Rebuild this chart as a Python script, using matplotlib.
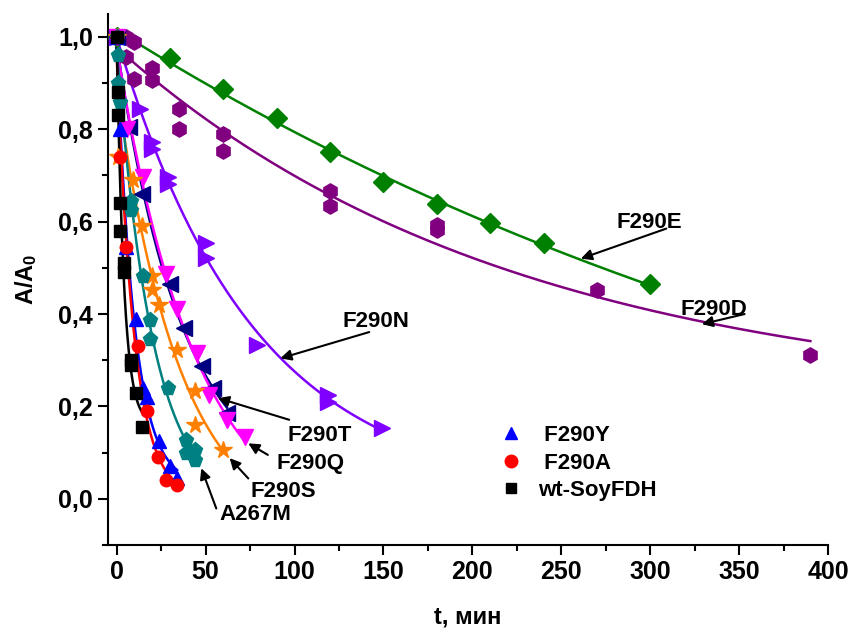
import numpy as np
import matplotlib
matplotlib.use("Agg")
import matplotlib.pyplot as plt
from matplotlib.ticker import MultipleLocator, FuncFormatter
from matplotlib.lines import Line2D

plt.rcParams['font.family'] = ['Liberation Sans', 'DejaVu Sans']
plt.rcParams['font.weight'] = 'bold'
plt.rcParams['mathtext.fontset'] = 'custom'
plt.rcParams['mathtext.rm'] = 'Liberation Sans:bold'
plt.rcParams['mathtext.default'] = 'rm'

# inactivation data: time (min) and residual activity A/A0
t_E = [0, 30, 60, 90, 120, 150, 180, 210, 240, 300]
y_E = [1.0, 0.955, 0.888, 0.825, 0.75, 0.685, 0.638, 0.597, 0.553, 0.465]

t_D = [0, 5, 5, 10, 10, 20, 20, 35, 35, 60, 60, 120, 120, 180, 180, 270, 390]
y_D = [1.0, 1.0, 0.957, 0.99, 0.908, 0.932, 0.907, 0.843, 0.80, 0.79, 0.753,
       0.666, 0.635, 0.593, 0.583, 0.453, 0.311]

t_N = [0, 13, 20, 20, 29, 29, 50, 50, 79, 119, 119, 149]
y_N = [1.0, 0.845, 0.772, 0.758, 0.696, 0.682, 0.553, 0.521, 0.334, 0.225, 0.21, 0.153]

t_T = [0, 7, 14, 30, 38, 48, 54, 62]
y_T = [1.0, 0.805, 0.66, 0.464, 0.37, 0.287, 0.24, 0.185]

t_Q = [0, 6, 15, 28, 34, 45, 52, 62, 72]
y_Q = [1.0, 0.80, 0.696, 0.486, 0.41, 0.316, 0.225, 0.171, 0.133]

t_S = [0, 1, 9, 14, 20, 20, 24, 34, 44, 44, 60]
y_S = [1.0, 0.74, 0.69, 0.59, 0.483, 0.453, 0.42, 0.323, 0.233, 0.16, 0.106]

t_M = [0, 1, 1, 2, 8, 8, 15, 19, 19, 29, 39, 39, 44, 44]
y_M = [1.0, 0.96, 0.90, 0.86, 0.645, 0.625, 0.483, 0.388, 0.345, 0.24, 0.128,
       0.10, 0.106, 0.085]

t_Y = [0, 2, 5, 11, 15, 17, 24, 30, 34]
y_Y = [1.0, 0.80, 0.545, 0.39, 0.24, 0.22, 0.125, 0.07, 0.045]

t_A = [0, 2, 5, 12, 17, 23, 28, 34]
y_A = [1.0, 0.74, 0.545, 0.33, 0.19, 0.09, 0.04, 0.03]

t_wt = [0, 1, 1, 2, 2, 4, 4, 8, 8, 11, 14]
y_wt = [1.0, 0.88, 0.83, 0.64, 0.58, 0.51, 0.49, 0.30, 0.29, 0.23, 0.155]


def fit_curve(t, y):
    # single exponential with offset, tau found by grid search
    t = np.asarray(t, float)
    y = np.asarray(y, float)
    best = None
    for tau in np.geomspace(1, 3000, 800):
        M = np.column_stack([np.exp(-t / tau), np.ones_like(t)])
        coef, *_ = np.linalg.lstsq(M, y, rcond=None)
        err = np.sum((M @ coef - y) ** 2)
        if best is None or err < best[0]:
            best = (err, tau, coef)
    _, tau, (a, c) = best
    tt = np.linspace(0, t.max(), 300)
    return tt, a * np.exp(-tt / tau) + c


series = [
    (t_E, y_E, 'D', '#008000', 10),
    (t_D, y_D, 'h', '#800080', 11),
    (t_N, y_N, '>', '#8000ff', 11),
    (t_T, y_T, '<', '#000080', 11),
    (t_Q, y_Q, 'v', '#ff00ff', 11),
    (t_S, y_S, '*', '#ff8000', 13),
    (t_M, y_M, 'p', '#008080', 11),
    (t_Y, y_Y, '^', '#0000ff', 10),
    (t_A, y_A, 'o', '#ff0000', 9),
    (t_wt, y_wt, 's', '#000000', 8),
]

fig = plt.figure(figsize=(8.52, 6.3), dpi=100)
ax = fig.add_axes([0.1265, 0.135, 0.8455, 0.843])

for t, y, m, c, ms in series:
    ax.plot(t, y, m, color=c, ms=ms, mec=c, ls='none', zorder=3)
    tt, yy = fit_curve(t, y)
    ax.plot(tt, yy, color=c, lw=1.8, zorder=2)

ax.set_xlim(-5, 400)
ax.set_ylim(-0.1, 1.05)
ax.xaxis.set_major_locator(MultipleLocator(50))
ax.xaxis.set_minor_locator(MultipleLocator(25))
ax.yaxis.set_major_locator(MultipleLocator(0.2))
ax.yaxis.set_minor_locator(MultipleLocator(0.1))
ax.yaxis.set_major_formatter(FuncFormatter(lambda v, p: f"{v:.1f}".replace('.', ',')))
ax.tick_params(which='both', direction='out', width=1.5, labelsize=18)
ax.tick_params(which='major', length=7)
ax.tick_params(which='minor', length=4)
for s in ['top', 'right']:
    ax.spines[s].set_visible(False)
for s in ['left', 'bottom']:
    ax.spines[s].set_linewidth(1.5)

ax.set_xlabel('t, мин', fontsize=17, fontweight='bold', labelpad=16)
ax.set_ylabel('A/A$_0$', fontsize=17, fontweight='bold', labelpad=14)

# labels with arrows: (text, text position, arrow tail, arrow head)
notes = [
    ('F290E', (281, 0.598), (309, 0.585), (261, 0.52)),
    ('F290D', (317, 0.409), (353, 0.40), (329, 0.378)),
    ('F290N', (127, 0.383), (142, 0.361), (92, 0.304)),
    ('F290T', (96, 0.137), (97, 0.171), (57, 0.218)),
    ('F290Q', (90, 0.076), (85, 0.095), (74, 0.12)),
    ('F290S', (75, 0.015), (74, 0.044), (63.5, 0.088)),
    ('A267M', (58, -0.035), (56, -0.021), (47.6, 0.066)),
]
for label, tpos, tail, head in notes:
    ax.text(tpos[0], tpos[1], label, fontsize=16, fontweight='bold',
            ha='left', va='center', zorder=5)
    ax.annotate('', xy=head, xytext=tail,
                arrowprops=dict(arrowstyle='-|>', color='black', lw=1.5,
                                mutation_scale=16, shrinkA=0, shrinkB=0),
                zorder=5)

handles = [
    Line2D([], [], marker='^', color='#0000ff', ls='none', ms=9),
    Line2D([], [], marker='o', color='#ff0000', ls='none', ms=9),
    Line2D([], [], marker='s', color='#000000', ls='none', ms=7),
]
ax.legend(handles, [' F290Y', ' F290A', 'wt-SoyFDH'], loc='upper left',
          bbox_to_anchor=(0.545, 0.226), frameon=False, fontsize=16,
          handlelength=1.0, handletextpad=0.7, labelspacing=0.3,
          borderpad=0, borderaxespad=0)

fig.savefig('out.png', dpi=100)
